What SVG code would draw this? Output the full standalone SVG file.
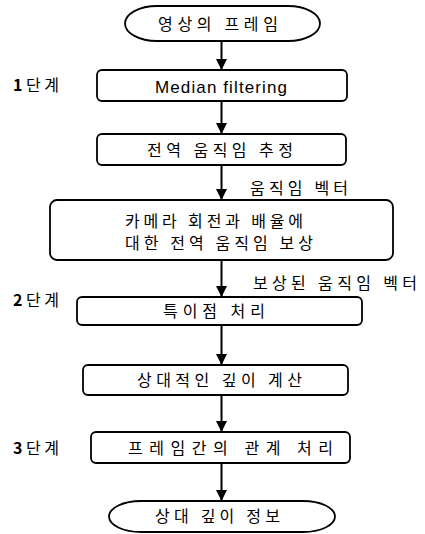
<svg xmlns="http://www.w3.org/2000/svg" width="425" height="534" viewBox="0 0 425 534">
<style>
.shape{fill:#fff;stroke:#000;stroke-width:1.8}
.kr{font-family:"Noto Sans CJK KR","Liberation Sans",sans-serif;font-size:16px;fill:#000}
.en{font-family:"Liberation Sans",Arial,sans-serif;font-size:17px;fill:#000}
.conn{stroke:#000;stroke-width:2;fill:none}
</style>
<defs>
<marker id="ah" markerUnits="userSpaceOnUse" markerWidth="12" markerHeight="11" refX="11" refY="5.5" orient="auto">
<path d="M0,0 L11,5.5 L0,11 Z" fill="#000"/>
</marker>
</defs>
<g id="connectors">
<line class="conn" x1="221.5" y1="41" x2="221.5" y2="70" marker-end="url(#ah)"/>
<line class="conn" x1="221.5" y1="101" x2="221.5" y2="134" marker-end="url(#ah)"/>
<line class="conn" x1="221.5" y1="165" x2="221.5" y2="200" marker-end="url(#ah)"/>
<line class="conn" x1="221.5" y1="260" x2="221.5" y2="297" marker-end="url(#ah)"/>
<line class="conn" x1="221.5" y1="325" x2="221.5" y2="365" marker-end="url(#ah)"/>
<line class="conn" x1="221.5" y1="395" x2="221.5" y2="432" marker-end="url(#ah)"/>
<line class="conn" x1="221.5" y1="463" x2="221.5" y2="501" marker-end="url(#ah)"/>
<text class="kr" x="250" y="194" textLength="98" lengthAdjust="spacing">움직임 벡터</text>
<text class="kr" x="253" y="289" textLength="164" lengthAdjust="spacing">보상된 움직임 벡터</text>
</g>
<g id="start">
<rect class="shape" x="125" y="6" width="195" height="35" rx="32" ry="17.5"/>
<text class="kr" x="158" y="29.5" textLength="120" lengthAdjust="spacing">영상의 프레임</text>
</g>
<g id="step1-label">
<text class="kr" x="13" y="91" textLength="46" lengthAdjust="spacing"><tspan font-weight="bold">1</tspan>단계</text>
</g>
<g id="median">
<rect class="shape" x="97" y="70" width="250" height="31" rx="5"/>
<text class="en" x="221" y="92.5" text-anchor="middle" textLength="132" lengthAdjust="spacing">Median filtering</text>
</g>
<g id="global-est">
<rect class="shape" x="97" y="134" width="249" height="31" rx="5"/>
<text class="kr" x="147" y="156" textLength="146" lengthAdjust="spacing">전역 움직임 추정</text>
</g>
<g id="compensate">
<rect class="shape" x="50" y="200" width="343" height="60" rx="7"/>
<text class="kr" x="125" y="226.5" textLength="178" lengthAdjust="spacing">카메라 회전과 배율에</text>
<text class="kr" x="125" y="249" textLength="188" lengthAdjust="spacing">대한 전역 움직임 보상</text>
</g>
<g id="step2-label">
<text class="kr" x="13" y="306" textLength="46" lengthAdjust="spacing"><tspan font-weight="bold">2</tspan>단계</text>
</g>
<g id="singular">
<rect class="shape" x="77" y="297" width="285" height="28" rx="5"/>
<text class="kr" x="163" y="316.5" textLength="102" lengthAdjust="spacing">특이점 처리</text>
</g>
<g id="depth-calc">
<rect class="shape" x="83" y="365" width="265" height="30" rx="5"/>
<text class="kr" x="137" y="386" textLength="165" lengthAdjust="spacing">상대적인 깊이 계산</text>
</g>
<g id="step3-label">
<text class="kr" x="13" y="454" textLength="46" lengthAdjust="spacing"><tspan font-weight="bold">3</tspan>단계</text>
</g>
<g id="inter-frame">
<rect class="shape" x="91" y="432" width="259" height="31" rx="5"/>
<text class="kr" x="128" y="454" textLength="205" lengthAdjust="spacing">프레임간의 관계 처리</text>
</g>
<g id="end">
<rect class="shape" x="109" y="501" width="226" height="31" rx="32" ry="15.5"/>
<text class="kr" x="155" y="522" textLength="125" lengthAdjust="spacing">상대 깊이 정보</text>
</g>
</svg>
